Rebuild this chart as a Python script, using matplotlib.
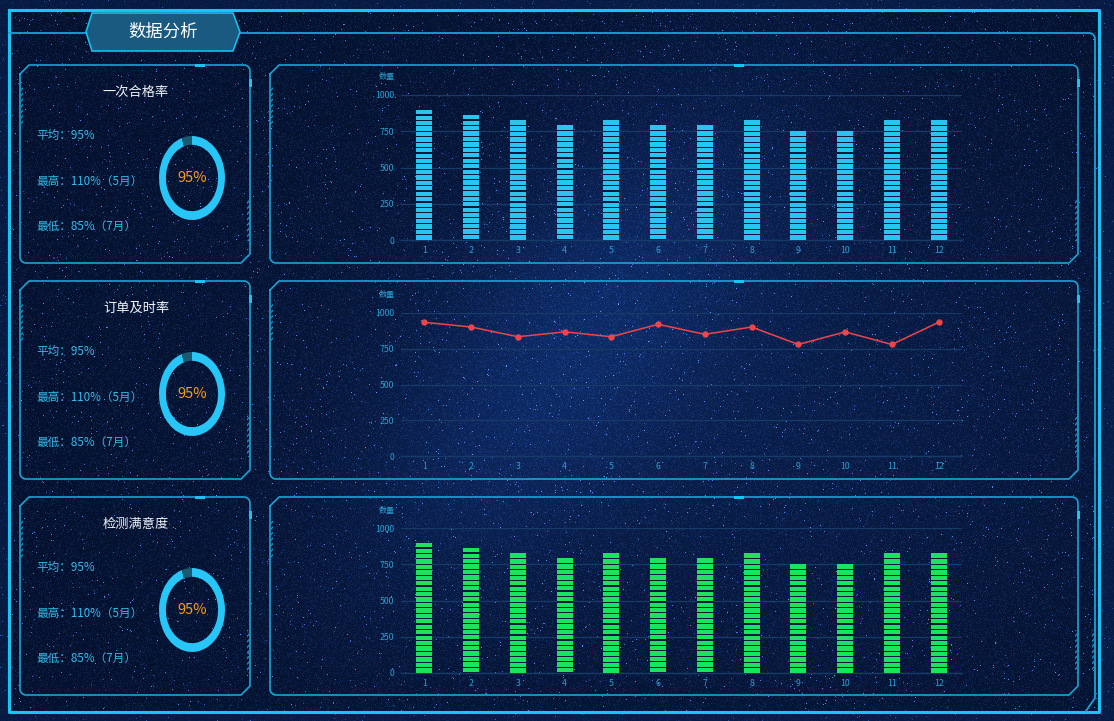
import numpy as np
import matplotlib
matplotlib.use("Agg")
import matplotlib.pyplot as plt
from matplotlib.lines import Line2D
from matplotlib.patches import Polygon, Rectangle

plt.rcParams['font.family'] = ['Noto Sans CJK SC', 'DejaVu Sans']

# ---------------- data ----------------
months = ['1', '2', '3', '4', '5', '6', '7', '8', '9', '10', '11', '12']
pass_qty = [900, 865, 825, 790, 825, 790, 790, 825, 750, 750, 825, 825]
ontime_qty = [935, 902, 834, 868, 834, 921, 851, 902, 780, 868, 780, 935]
satisfaction_qty = [900, 865, 825, 790, 825, 790, 790, 825, 750, 750, 825, 825]
y_ticks = [0, 250, 500, 750, 1000]
panel_titles = ['一次合格率', '订单及时率', '检测满意度']
avg_text = ['平均：95%', '平均：95%', '平均：95%']
max_text = ['最高：110%（5月）', '最高：110%（5月）', '最高：110%（5月）']
min_text = ['最低：85%（7月）', '最低：85%（7月）', '最低：85%（7月）']
rates = [95, 95, 95]
main_title = '数据分析'
y_label = '数量'

W, H = 1114, 721
fig = plt.figure(figsize=(W / 100, H / 100), dpi=100)

# ---------------- background (decorative starfield) ----------------
rng = np.random.default_rng(11)
yy, xx = np.mgrid[0:H, 0:W]
base = np.zeros((H, W, 3))
base[..., 0] = 4 / 255
base[..., 1] = 16 / 255
base[..., 2] = 44 / 255
# nebula glow (soft, spread)
d = ((xx - 580) * 0.8 + (yy - 330) * 0.6) ** 2 / 120 ** 2 + ((xx - 580) * 0.6 - (yy - 330) * 0.8) ** 2 / 300 ** 2
glow = np.exp(-d) * 0.3
glow2 = np.exp(-(((xx - 720) / 420) ** 2 + ((yy - 400) / 300) ** 2)) * 0.25
g = glow + glow2
base[..., 0] += g * 18 / 255
base[..., 1] += g * 50 / 255
base[..., 2] += g * 110 / 255
noise = rng.random((H, W))
grain = noise ** 5 * 0.16
stars = (noise > 0.994) * (0.25 + 0.5 * rng.random((H, W)))
lum = grain + stars
base[..., 0] += lum * 0.4
base[..., 1] += lum * 0.58
base[..., 2] += lum * 0.95
outside = (xx > 1100) | (yy > 713) | (xx < 8) | (yy < 9)
base[outside] = base[outside] * 0.6 + np.array([10, 40, 95]) / 255 * 0.4
img = np.clip(base, 0, 1)

bg = fig.add_axes([0, 0, 1, 1])
bg.set_xlim(0, W)
bg.set_ylim(H, 0)
bg.axis('off')
bg.imshow(img, extent=(0, W, H, 0), aspect='auto', zorder=0, interpolation='bilinear')

FRAME = '#18c4f4'
PANEL = '#1ba2d4'
HATCH = '#1a8fb8'


def line(pts, color=PANEL, lw=1.2, z=3):
    p = np.array(pts, dtype=float)
    bg.add_line(Line2D(p[:, 0], p[:, 1], color=color, lw=lw, zorder=z, solid_joinstyle='round'))


def arc(cx, cy, r, a0, a1, n=8):
    t = np.linspace(np.radians(a0), np.radians(a1), n)
    return [(cx + r * np.cos(a), cy + r * np.sin(a)) for a in t]


def hatch_strip(x, y0, y1):
    bg.add_patch(Rectangle((x - 2, y0), 4, y1 - y0, fill=False, hatch='//////',
                           edgecolor=HATCH, lw=0, zorder=3))


def panel(x0, y0, x1, y1, c=9, r=6):
    pts = [(x0, y0 + c), (x0 + c, y0), (x1 - r, y0)]
    pts += arc(x1 - r, y0 + r, r, -90, 0)
    pts += [(x1, y1 - c), (x1 - c, y1), (x0 + r, y1)]
    pts += arc(x0 + r, y1 - r, r, 90, 180)
    pts += [(x0, y0 + c)]
    line(pts)
    hatch_strip(x0 + 1, y0 + 22, y0 + 62)
    hatch_strip(x1 - 1, y1 - 65, y1 - 22)
    bg.add_patch(Rectangle(((x0 + x1) / 2 + 60, y0 - 1.5), 10, 3, color=FRAME, zorder=4, lw=0))
    bg.add_patch(Rectangle((x1 - 1.5, y0 + 14), 3, 8, color=FRAME, zorder=4, lw=0))


# outer frame
line([(9, 10), (1099, 10), (1099, 712), (9, 712), (9, 10)], color=FRAME, lw=2.2)
# inner frame
line([(9, 33), (86, 33)], color=PANEL, lw=1.3)
inner = [(240, 33), (1089, 33)] + arc(1089, 39, 6, -90, 0) + [(1095, 698), (1086, 711)]
line(inner, color=PANEL, lw=1.3)
hatch_strip(1094, 630, 672)

# title tab
tab = Polygon([(86, 32), (92, 13), (233, 13), (240, 32), (233, 51), (92, 51)], closed=True,
              facecolor='#1c5f86', edgecolor=FRAME, lw=1.2, alpha=0.95, zorder=4)
bg.add_patch(tab)
bg.text(163, 32, main_title, color='white', fontsize=12.5, ha='center', va='center', zorder=5)

rows = [(65, 263), (281, 479), (497, 695)]
for (t, b) in rows:
    panel(20, t, 250, b)
    panel(270, t, 1078, b)

# left panel texts and donuts
TXT = '#33bbea'
for k, (t, b) in enumerate(rows):
    off = t - 65
    bg.text(136, 92 + off, panel_titles[k], color='#eef3f8', fontsize=9.5, ha='center', va='center', zorder=5)
    bg.text(36, 135 + off, avg_text[k], color=TXT, fontsize=8.4, ha='left', va='center', zorder=5)
    bg.text(36, 181 + off, max_text[k], color=TXT, fontsize=8.4, ha='left', va='center', zorder=5)
    bg.text(36, 227 + off, min_text[k], color=TXT, fontsize=8.4, ha='left', va='center', zorder=5)

    cx, cy = 192, 178 + off
    rx, ry = 33, 42
    dax = fig.add_axes([(cx - rx) / W, 1 - (cy + ry) / H, 2 * rx / W, 2 * ry / H])
    dax.pie([rates[k], 100 - rates[k]], colors=['#27c6f6', '#175a72'], startangle=90,
            counterclock=False, radius=1, wedgeprops=dict(width=0.21, edgecolor='none'))
    dax.set_aspect('auto')
    dax.set_xlim(-1, 1)
    dax.set_ylim(-1, 1)
    dax.axis('off')
    dax.text(0, 0, f'{rates[k]}%', color='#ff9a0e', fontsize=10.5, ha='center', va='center')

# ---------------- charts ----------------
GRID = '#173a66'
TICK = '#2a9fcf'
x = np.arange(len(months))
left = 401 / W
width = 561 / W
chart_rows = [(95, 240), (313, 456), (528, 673)]


def style(ax):
    ax.set_xlim(-0.5, len(months) - 0.5)
    ax.set_ylim(0, 1000)
    ax.set_yticks(y_ticks)
    ax.set_yticklabels([str(v) for v in y_ticks])
    ax.set_xticks(x)
    ax.set_xticklabels(months)
    ax.patch.set_alpha(0)
    for s in ['top', 'right', 'left']:
        ax.spines[s].set_visible(False)
    ax.spines['bottom'].set_color(GRID)
    ax.spines['bottom'].set_linewidth(1)
    ax.tick_params(axis='both', length=0, colors=TICK, labelsize=6.3)
    ax.tick_params(axis='y', pad=5)
    ax.tick_params(axis='x', pad=4)
    ax.grid(axis='y', color=GRID, lw=0.9)
    ax.set_axisbelow(True)


def seg_bars(ax, vals, color):
    bw = 0.34
    seg = 37.5
    gap = 8
    ax.bar(x, vals, width=bw, color=color, zorder=3)
    for i, v in enumerate(vals):
        bottoms = np.arange(v - seg, 0, -seg) - gap / 2
        ax.bar(np.full(len(bottoms), x[i]), gap, bottom=bottoms, width=bw * 1.02,
               color='#07193a', zorder=4)


axes = []
for (top, bot) in chart_rows:
    ax = fig.add_axes([left, 1 - bot / H, width, (bot - top) / H])
    style(ax)
    axes.append(ax)
    bg.text(387, top - 18, y_label, color=TICK, fontsize=5.8, ha='center', va='center', zorder=5)

seg_bars(axes[0], pass_qty, '#2ac4f0')
axes[1].plot(x, ontime_qty, color='#ee4549', lw=1.1, marker='o', markersize=3.6, zorder=4)
seg_bars(axes[2], satisfaction_qty, '#1be35e')

fig.savefig('out.png', dpi=100)
